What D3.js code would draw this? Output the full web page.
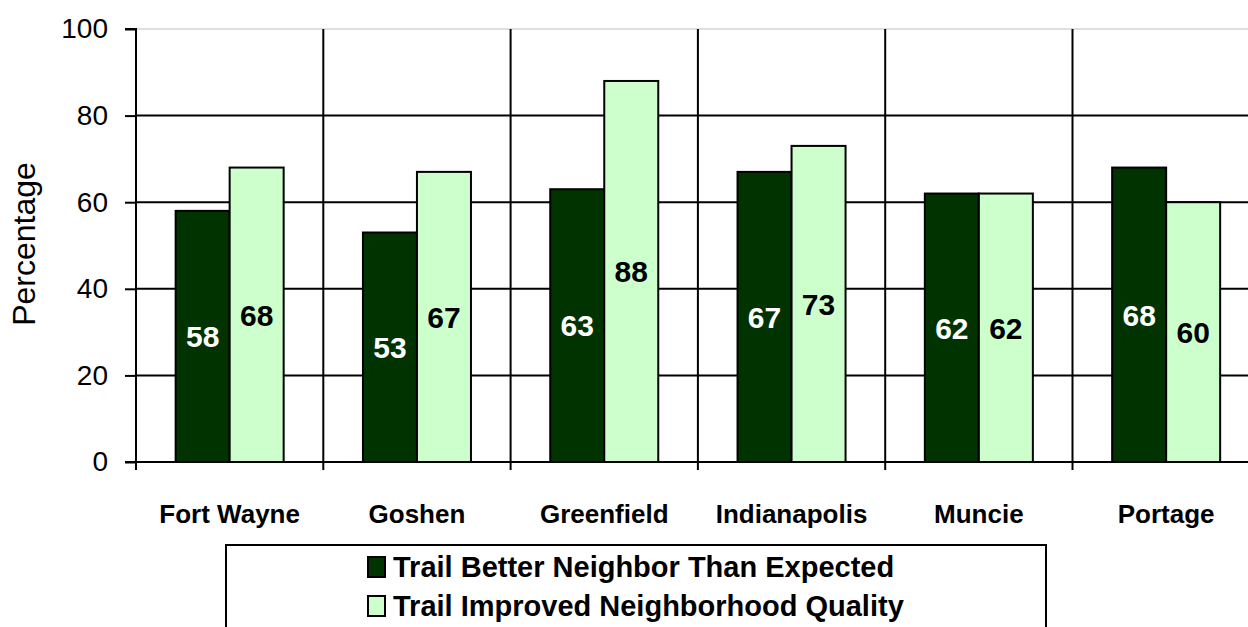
<!DOCTYPE html>
<html><head><meta charset="utf-8">
<script src="https://cdn.jsdelivr.net/npm/d3@7"></script>
<style>body{margin:0;background:#fff}svg{display:block;font-family:"Liberation Sans",Arial,sans-serif}</style>
</head><body><svg id="c" width="1248" height="627"></svg>
<script>
const categories = ["Fort Wayne","Goshen","Greenfield","Indianapolis","Muncie","Portage"];
const seriesNames = ["Trail Better Neighbor Than Expected","Trail Improved Neighborhood Quality"];
const betterNeighbor = [58,53,63,67,62,68];
const improvedQuality = [68,67,88,73,62,60];
const yTicks = [0,20,40,60,80,100];
const colors = ["#003300","#CCFFCC"];
const labelColors = ["#ffffff","#000000"];

(function(){
const svg = d3.select("#c");
const pLeft = 136, pTop = 29, pBottom = 462, catW = 187.3;
const pRight = pLeft + catW*categories.length;
const x = d3.scaleBand().domain(categories).range([pLeft,pRight]).paddingInner(0).paddingOuter(0);
const y = d3.scaleLinear().domain([0,100]).range([pBottom,pTop]);
const inner = d3.scaleBand().domain([0,1]).range([0,x.bandwidth()]).paddingInner(0).paddingOuter(0.734);

// horizontal gridlines
svg.append("g").selectAll("line").data(yTicks.filter(d=>d>0)).join("line")
  .attr("x1",pLeft).attr("x2",pRight).attr("y1",d=>y(d)).attr("y2",d=>y(d))
  .attr("stroke",d=>d===100?"#c0c0c0":"#000").attr("stroke-width",d=>d===100?1:2);
// vertical category separators
svg.append("g").selectAll("line").data(categories.slice(1)).join("line")
  .attr("x1",d=>x(d)).attr("x2",d=>x(d)).attr("y1",pTop).attr("y2",pBottom)
  .attr("stroke","#000").attr("stroke-width",2);

const series = [betterNeighbor, improvedQuality];
series.forEach((vals,si)=>{
  const g = svg.append("g");
  g.selectAll("rect").data(vals).join("rect")
    .attr("x",(d,i)=>x(categories[i])+inner(si))
    .attr("y",d=>y(d)).attr("width",inner.bandwidth()).attr("height",d=>pBottom-y(d))
    .attr("fill",colors[si]).attr("stroke","#000").attr("stroke-width",2);
  g.selectAll("text").data(vals).join("text")
    .attr("x",(d,i)=>x(categories[i])+inner(si)+inner.bandwidth()/2)
    .attr("y",d=>(y(d)+pBottom)/2).attr("dy","0.36em")
    .attr("text-anchor","middle").attr("font-weight","bold").attr("font-size",30)
    .attr("fill",labelColors[si]).text(d=>d);
});

// y axis
const ya = svg.append("g").attr("transform",`translate(${pLeft},0)`)
  .call(d3.axisLeft(y).tickValues(yTicks).tickSize(11).tickPadding(17));
ya.select(".domain").attr("stroke","#000").attr("stroke-width",2).attr("d",`M-11,${pTop}H0V${pBottom}`);
ya.selectAll(".tick line").attr("stroke","#000").attr("stroke-width",2);
ya.selectAll(".tick text").attr("font-size",28).attr("fill","#000").attr("font-family","Liberation Sans, Arial, sans-serif");

// x axis
const xa = svg.append("g").attr("transform",`translate(0,${pBottom})`);
xa.append("line").attr("x1",pLeft-11).attr("x2",pRight).attr("y1",0).attr("y2",0).attr("stroke","#000").attr("stroke-width",2);
xa.selectAll("line.tk").data(categories).join("line").attr("class","tk")
  .attr("x1",d=>x(d)).attr("x2",d=>x(d)).attr("y1",0).attr("y2",8).attr("stroke","#000").attr("stroke-width",2);
xa.selectAll("text").data(categories).join("text")
  .attr("x",d=>x(d)+x.bandwidth()/2).attr("y",61).attr("text-anchor","middle")
  .attr("font-weight","bold").attr("font-size",26).attr("fill","#000").text(d=>d);

// y title
svg.append("text").attr("transform","translate(35,244) rotate(-90)").attr("text-anchor","middle")
  .attr("font-size",32).attr("fill","#000").text("Percentage");

// legend
const lg = svg.append("g");
lg.append("rect").attr("x",226).attr("y",545).attr("width",820).attr("height",100)
  .attr("fill","#fff").attr("stroke","#000").attr("stroke-width",2);
seriesNames.forEach((n,i)=>{
  const yy = 567 + i*39;
  lg.append("rect").attr("x",368).attr("y",yy-10).attr("width",17).attr("height",20)
    .attr("fill",colors[i]).attr("stroke","#000").attr("stroke-width",2);
  lg.append("text").attr("x",393).attr("y",yy).attr("dy","0.36em")
    .attr("font-weight","bold").attr("font-size",29).attr("fill","#000").text(n);
});
})();
</script></body></html>
